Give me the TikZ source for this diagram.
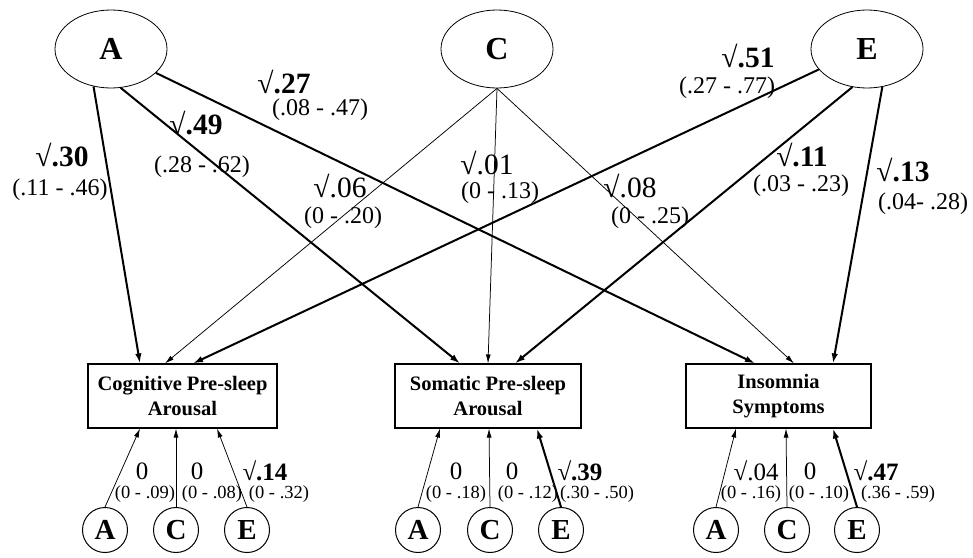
\documentclass[tikz,border=0pt]{standalone}
\usepackage{fontspec}
\setmainfont{Liberation Serif}
\usetikzlibrary{shapes.geometric,arrows.meta}
\begin{document}
\begin{tikzpicture}[x=1pt,y=-1pt,
  lat/.style={ellipse,draw,line width=0.8pt,minimum width=112pt,minimum height=78pt,inner sep=0pt,font=\fontsize{32}{36}\selectfont\bfseries},
  obs/.style={draw,line width=1.1pt,minimum width=#1,minimum height=64pt,inner sep=0pt,align=center,font=\fontsize{20.5}{25}\selectfont\bfseries},
  res/.style={circle,draw,line width=1pt,minimum size=45pt,inner sep=0pt,font=\fontsize{29}{30}\selectfont\bfseries},
  pthick/.style={line width=2pt,-{Latex[length=10pt,width=6.5pt]}},
  pthin/.style={line width=0.75pt,-{Latex[length=9pt,width=5pt]}},
  val/.style={inner sep=0pt,font=\fontsize{29.5}{30}\selectfont},
  ci/.style={inner sep=0pt,font=\fontsize{24}{25}\selectfont},
  sval/.style={inner sep=0pt,font=\fontsize{25}{26}\selectfont},
  sci/.style={inner sep=0pt,font=\fontsize{18.5}{20}\selectfont}
]
\useasboundingbox (0,0) rectangle (973,557);
% latent factors
\node[lat] (A) at (111,49) {A};
\node[lat] (C) at (497,49) {C};
\node[lat] (E) at (867,49) {E};
% observed
\node[obs=189pt] (cog) at (182.5,396) {Cognitive Pre-sleep\\Arousal};
\node[obs=186pt] (som) at (488,396) {Somatic Pre-sleep\\Arousal};
\node[obs=185pt] (ins) at (778.5,396) {Insomnia\\Symptoms};
% residual factors
\node[res] (cA) at (105,530) {A};
\node[res] (cC) at (176,530) {C};
\node[res] (cE) at (247,530) {E};
\node[res] (sA) at (418,530) {A};
\node[res] (sC) at (490,530) {C};
\node[res] (sE) at (561,530) {E};
\node[res] (iA) at (716,530) {A};
\node[res] (iC) at (787,530) {C};
\node[res] (iE) at (857,530) {E};
% top paths
\draw[pthick] (A.245) -- ([xshift=-42.5pt]cog.north);
\draw[pthick] (A.284) -- ([xshift=-28pt]som.north);
\draw[pthick] (A.332) -- ([xshift=-23.5pt]ins.north);
\draw[pthin] (C.south) -- ([xshift=-17.5pt]cog.north);
\draw[pthin] (C.south) -- (som.north);
\draw[pthin] (C.south) -- ([xshift=15.5pt]ins.north);
\draw[pthick] (E.203) -- ([xshift=10.5pt]cog.north);
\draw[pthick] (E.249) -- ([xshift=27pt]som.north);
\draw[pthick] (E.292) -- ([xshift=54.5pt]ins.north);
% bottom paths
\draw[pthin] (cA.north) -- ([xshift=-42.5pt]cog.south);
\draw[pthin] (cC.north) -- ([xshift=-6.5pt]cog.south);
\draw[pthin] (cE.north) -- ([xshift=34.5pt]cog.south);
\draw[pthin] (sA.north) -- ([xshift=-48pt]som.south);
\draw[pthin] (sC.north) -- ([xshift=1pt]som.south);
\draw[pthick] (sE.north) -- ([xshift=49pt]som.south);
\draw[pthin] (iA.north) -- ([xshift=-42.5pt]ins.south);
\draw[pthin] (iC.north) -- ([xshift=7.5pt]ins.south);
\draw[pthick] (iE.north) -- ([xshift=54.5pt]ins.south);
% top labels
\node[val] (v30) at (62,155) {√\textbf{.30}};
\node[ci] (i30) at (60,190) {(.11 - .46)};
\node[val] (v49) at (196,123) {√\textbf{.49}};
\node[ci] (i49) at (202,167) {(.28 - .62)};
\node[val] (v27) at (284,82) {√\textbf{.27}};
\node[ci] (i27) at (320,110) {(.08 - .47)};
\node[val] (v06) at (340,186) {√.06};
\node[ci] (i06) at (343,218) {(0 - .20)};
\node[val] (v01) at (487,163) {√.01};
\node[ci] (i01) at (500,193) {(0 - .13)};
\node[val] (v08) at (630,186) {√.08};
\node[ci] (i08) at (650,218) {(0 - .25)};
\node[val] (v51) at (748,56) {√\textbf{.51}};
\node[ci] (i51) at (727,88) {(.27 - .77)};
\node[val] (v11) at (802,155) {√\textbf{.11}};
\node[ci] (i11) at (801,186) {(.03 - .23)};
\node[val] (v13) at (903,170) {√\textbf{.13}};
\node[ci] (i13) at (923,204) {(.04- .28)};
% bottom labels
\node[sval] (cv1) at (142,471) {0};
\node[sci] (ci1) at (145,494) {(0 - .09)};
\node[sval] (cv2) at (197,471) {0};
\node[sci] (ci2) at (212,494) {(0 - .08)};
\node[sval] (cv3) at (265,471) {√\textbf{.14}};
\node[sci] (ci3) at (279,494) {(0 - .32)};
\node[sval] (sv1) at (456,471) {0};
\node[sci] (si1) at (456,494) {(0 - .18)};
\node[sval] (sv2) at (512,471) {0};
\node[sci] (si2) at (528,494) {(0 - .12)};
\node[sval] (sv3) at (580,471) {√\textbf{.39}};
\node[sci] (si3) at (597,494) {(.30 - .50)};
\node[sval] (iv1) at (756,471) {√.04};
\node[sci] (ii1) at (751,494) {(0 - .16)};
\node[sval] (iv2) at (810,471) {0};
\node[sci] (ii2) at (819,494) {(0 - .10)};
\node[sval] (iv3) at (876,471) {√\textbf{.47}};
\node[sci] (ii3) at (898,494) {(.36 - .59)};
\end{tikzpicture}
\end{document}
